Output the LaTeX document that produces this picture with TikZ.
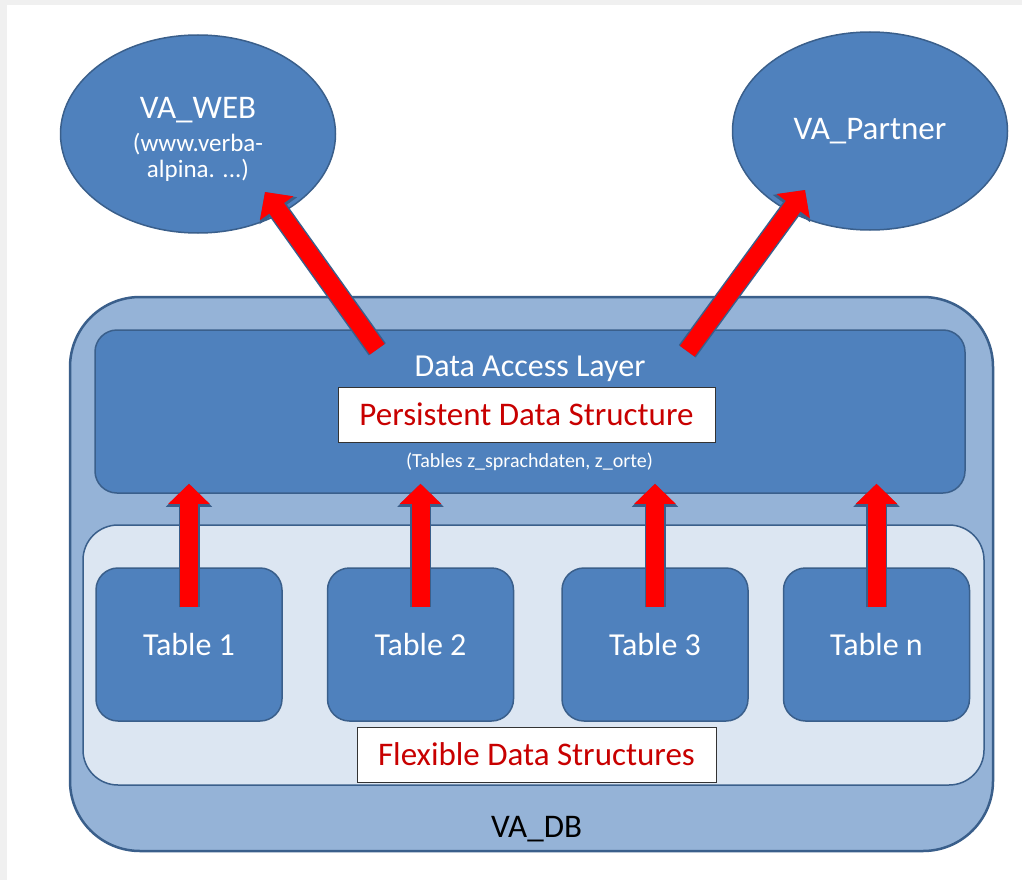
\documentclass[tikz,border=0pt]{standalone}
\usepackage{fontspec}
\setmainfont{Carlito}
\usepackage{tikz}
\usetikzlibrary{shapes.geometric, arrows.meta, positioning, calc}
\definecolor{vablue}{HTML}{4F81BD}
\definecolor{vaedge}{HTML}{3A5F8B}
\definecolor{valight}{HTML}{95B3D7}
\definecolor{vapale}{HTML}{DCE6F2}
\definecolor{vared}{HTML}{C80000}
\tikzset{
    baseblock/.style={rectangle, draw=vaedge, line width=1.5pt, text centered, font=\fontsize{32}{36}\selectfont, inner sep=0pt},
    dbblock/.style={baseblock, fill=valight, rounded corners=70pt, line width=2.5pt},
    poolblock/.style={baseblock, fill=vapale, rounded corners=35pt},
    layerblock/.style={baseblock, fill=vablue, rounded corners=22pt},
    tableblock/.style={baseblock, fill=vablue, rounded corners=22pt, text=white, minimum width=186pt, minimum height=153pt},
    clientblock/.style={ellipse, draw=vaedge, line width=1.5pt, fill=vablue, text=white, align=center, font=\fontsize{33}{35}\selectfont, minimum width=275pt, minimum height=198pt, inner sep=0pt},
    labelbox/.style={rectangle, draw=black!80, line width=0.8pt, fill=white, text=vared, font=\fontsize{33}{36}\selectfont, minimum height=55pt, inner sep=0pt},
    flowarrow/.style={line width=18pt, draw=red, -{Triangle[width=40pt,length=20pt]},
        preaction={draw=vaedge, line width=21pt, -{Triangle[width=45pt,length=23pt]}}}
}

\begin{document}
\begin{tikzpicture}[x=1pt, y=-1pt]
    \useasboundingbox (0,0) rectangle (1022,880);
    \fill[black!6] (0,0) rectangle (1022,880);
    \fill[white] (7,5) rectangle (1022,880);

    \node (vadb) [dbblock, minimum width=923pt, minimum height=554pt] at (531.5,574) {};
    \node (flex) [poolblock, minimum width=901pt, minimum height=260pt] at (533.5,655) {};
    \node (dal) [layerblock, minimum width=870pt, minimum height=163pt] at (530,411.5) {};

    \node (t1) [tableblock] at (189,644.5) {Table 1};
    \node (t2) [tableblock] at (420.5,644.5) {Table 2};
    \node (t3) [tableblock] at (655,644.5) {Table 3};
    \node (tn) [tableblock] at (876.5,644.5) {Table n};

    \node (daltitle) [anchor=base, text=white, font=\fontsize{32}{36}\selectfont] at (530,376) {Data Access Layer};
    \node (pds) [labelbox, minimum width=377pt] at (526.5,414.5) {Persistent Data Structure};
    \node (dalnote) [anchor=base, text=white, font=\fontsize{20}{24}\selectfont] at (529.5,467) {(Tables z\_sprachdaten, z\_orte)};
    \node (fds) [labelbox, minimum width=359pt] at (536.5,754.5) {Flexible Data Structures};
    \node (dblabel) [anchor=base, font=\fontsize{33}{36}\selectfont] at (536.5,837) {VA\_DB};

    \node (web) [clientblock] at (198,134) {};
    \node (webtext) [anchor=north, text=white, align=center, inner sep=0pt, font=\fontsize{25}{26}\selectfont] at ([yshift=37pt]web.center) {{\fontsize{33}{35}\selectfont VA\_WEB}\\[7pt](www.verba-\\alpina. ...)};
    \node (partner) [clientblock] at (870,131) {VA\_Partner};

    % tables feed the access layer
    \draw [flowarrow] ([yshift=-40pt]t1.north) -- ([yshift=10pt]t1.north |- dal.south);
    \draw [flowarrow] ([yshift=-40pt]t2.north) -- ([yshift=10pt]t2.north |- dal.south);
    \draw [flowarrow] ([yshift=-40pt]t3.north) -- ([yshift=10pt]t3.north |- dal.south);
    \draw [flowarrow] ([yshift=-40pt]tn.north) -- ([yshift=10pt]tn.north |- dal.south);

    % access layer serves the clients
    \draw [flowarrow] ([xshift=283pt,yshift=-20pt]dal.north west) -- ([xshift=67pt,yshift=-58pt]web.center);
    \draw [flowarrow] ([xshift=593pt,yshift=-22pt]dal.north west) -- ([xshift=-65pt,yshift=-59pt]partner.center);
\end{tikzpicture}
\end{document}
